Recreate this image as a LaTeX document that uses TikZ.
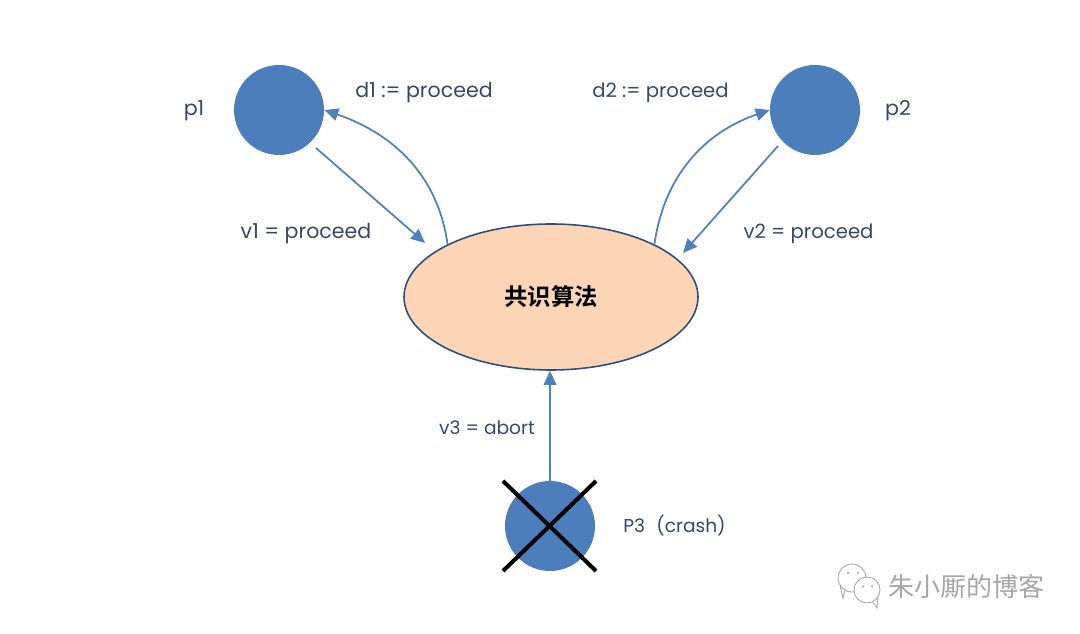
\documentclass[tikz,border=0pt]{standalone}
\usepackage{fontspec}
\setmainfont{Poppins}
\newfontfamily\cjk{Noto Sans CJK SC}
\newfontfamily\cjkbold{Noto Sans CJK SC Bold}
\definecolor{procblue}{HTML}{4C7EBB}
\definecolor{linkblue}{HTML}{4F81BD}
\definecolor{algfill}{HTML}{FBD5B5}
\definecolor{algline}{HTML}{2F4E77}
\definecolor{labelink}{HTML}{35486B}
\definecolor{markgrey}{HTML}{A6A6A6}
\usetikzlibrary{arrows.meta}
\tikzset{
  proc/.style={circle,fill=procblue,minimum size=1.8cm,inner sep=0pt},
  alg/.style={ellipse,draw=algline,line width=0.9pt,fill=algfill,minimum width=5.88cm,minimum height=2.92cm,inner sep=0pt},
  link/.style={draw=linkblue,line width=1pt,-{Triangle[length=2.8mm,width=2.5mm]}},
  lab/.style={text=labelink,font=\fontsize{11.7}{13}\selectfont,inner sep=0pt},
  labsmall/.style={text=labelink,font=\fontsize{11.2}{13}\selectfont,inner sep=0pt},
  labtiny/.style={text=labelink,font=\fontsize{10.6}{13}\selectfont,inner sep=0pt},
  crossline/.style={draw=black,line width=2.3pt},
  markline/.style={draw=markgrey,line width=0.5pt},
}
\usetikzlibrary{shapes.geometric}
\begin{document}
\begin{tikzpicture}
\useasboundingbox (0,0) rectangle (21.6,12.68);

\node[proc] (p1) at (5.58,10.48) {};
\node[proc] (p2) at (16.3,10.48) {};
\node[proc] (p3) at (11,2.16) {};
\node[alg] (algo) at (11.02,6.74) {\fontsize{13.3}{15}\cjkbold 共识算法};

\coordinate (v1from) at (6.32,9.72);
\coordinate (v1to) at (8.5,7.82);
\coordinate (v2from) at (15.56,9.76);
\coordinate (v2to) at (13.66,7.62);

\draw[link] (v1from) -- (v1to);
\draw[link] (v2from) -- (v2to);
\draw[link] (algo.153) to[out=98,in=-19] (p1.east);
\draw[link] (algo.27) to[out=82,in=199] (p2.west);
\draw[link] (p3.north) -- (p3.north |- algo.south);

\coordinate (xa) at (10.06,3.06);
\coordinate (xb) at (11.92,1.26);
\coordinate (xc) at (11.92,3.06);
\coordinate (xd) at (10.06,1.26);
\draw[crossline] (xa) -- (xb);
\draw[crossline] (xc) -- (xd);

\node[lab] (lp1) at (3.88,10.46) {p1};
\node[lab] (lp2) at (17.96,10.46) {p2};
\node[lab] (ld1) at (8.48,10.83) {d1 := proceed};
\node[labsmall] (ld2) at (13.21,10.83) {d2 := proceed};
\node[lab] (lv1) at (6.12,8.01) {v1 = proceed};
\node[labsmall] (lv2) at (16.17,8.01) {v2 = proceed};
\node[labtiny] (lv3) at (9.74,4.12) {v3 = abort};
\node[labtiny,anchor=west] (lp3) at (12.46,2.16) {P3\hspace{0.6em}(crash)};

% watermark
\node[text=markgrey,inner sep=0pt,font=\fontsize{14.8}{16}\cjk] (mark) at (19.33,0.94) {朱小厮的博客};
\node[circle,markline,minimum size=0.56cm,inner sep=0pt] (bubblea) at (17.04,1.12) {};
\coordinate (taila) at (16.86,0.72);
\draw[markline] (bubblea.240) -- (taila) -- (bubblea.215);
\node[circle,markline,fill=white,minimum size=0.52cm,inner sep=0pt] (bubbleb) at (17.34,0.88) {};
\coordinate (tailb) at (17.54,0.52);
\draw[markline] (bubbleb.-65) -- (tailb) -- (bubbleb.-35);
\fill[markgrey] (16.96,1.22) circle(0.025cm);
\fill[markgrey] (17.16,1.22) circle(0.025cm);
\fill[markgrey] (17.26,0.95) circle(0.025cm);
\fill[markgrey] (17.44,0.95) circle(0.025cm);
\end{tikzpicture}
\end{document}
